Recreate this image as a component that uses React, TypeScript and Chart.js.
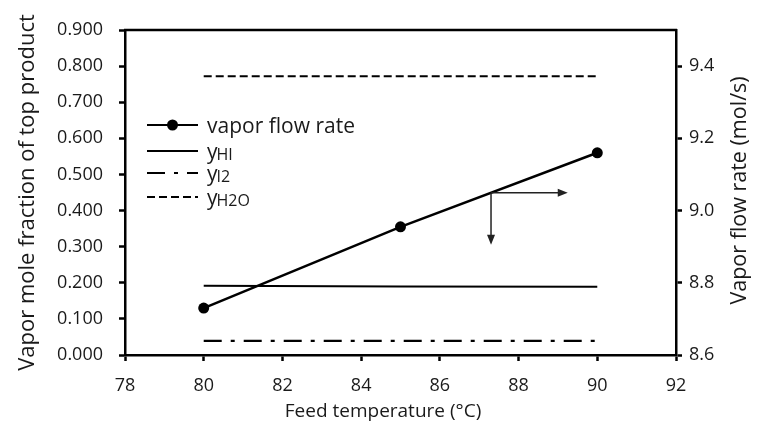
import React, { useEffect, useRef } from 'react';
import { Chart, registerables } from 'chart.js';

Chart.register(...registerables);

// ---- data ----
const temperatures = [80, 85, 90];
const vaporFlowRate = [8.73, 8.955, 9.16];
const yHI = [0.192, 0.19, 0.189];
const yI2 = [0.039, 0.039, 0.039];
const yH2O = [0.772, 0.772, 0.772];

const xTicks = [78, 80, 82, 84, 86, 88, 90, 92];
const leftTicks = [0, 0.1, 0.2, 0.3, 0.4, 0.5, 0.6, 0.7, 0.8, 0.9];
const rightTicks = [8.6, 8.8, 9.0, 9.2, 9.4];

// annotation arrows (data units)
const arrowT = 87.3;
const arrowRightT = 89.25;
const arrowDownY = 0.305;

const FONT = "'Open Sans', 'Noto Sans', sans-serif";
const TEXT = '#1a1a1a';

const toXY = (ys: number[]) => temperatures.map((t, i) => ({ x: t, y: ys[i] }));

function drawArrow(ctx: CanvasRenderingContext2D, x1: number, y1: number, x2: number, y2: number) {
  const ang = Math.atan2(y2 - y1, x2 - x1);
  const L = 10, W = 4;
  ctx.beginPath();
  ctx.moveTo(x1, y1);
  ctx.lineTo(x2 - Math.cos(ang) * L * 0.8, y2 - Math.sin(ang) * L * 0.8);
  ctx.stroke();
  ctx.beginPath();
  ctx.moveTo(x2, y2);
  ctx.lineTo(x2 - Math.cos(ang) * L - Math.sin(ang) * W, y2 - Math.sin(ang) * L + Math.cos(ang) * W);
  ctx.lineTo(x2 - Math.cos(ang) * L + Math.sin(ang) * W, y2 - Math.sin(ang) * L - Math.cos(ang) * W);
  ctx.closePath();
  ctx.fill();
}

const overlay = {
  id: 'overlay',
  afterDraw(chart: any) {
    const { ctx, chartArea, scales } = chart;
    const sx = scales.x, sy = scales.y, sy2 = scales.y2;
    ctx.save();

    // top frame line
    ctx.strokeStyle = '#000';
    ctx.lineWidth = 2.5;
    ctx.beginPath();
    ctx.moveTo(chartArea.left - 1, chartArea.top);
    ctx.lineTo(chartArea.right + 1, chartArea.top);
    ctx.stroke();

    // axis titles
    ctx.fillStyle = TEXT;
    ctx.textAlign = 'center';
    ctx.textBaseline = 'middle';
    ctx.font = `22px ${FONT}`;
    ctx.save();
    ctx.translate(28, (chartArea.top + chartArea.bottom) / 2);
    ctx.rotate(-Math.PI / 2);
    ctx.fillText('Vapor mole fraction of top product', 0, 0);
    ctx.restore();
    ctx.font = `21.5px ${FONT}`;
    ctx.save();
    ctx.translate(740, (chartArea.top + chartArea.bottom) / 2 - 2);
    ctx.rotate(-Math.PI / 2);
    ctx.fillText('Vapor flow rate (mol/s)', 0, 0);
    ctx.restore();
    ctx.font = `19px ${FONT}`;
    ctx.fillText('Feed temperature (°C)', 383, 412);

    // legend
    const lx1 = 147, lx2 = 198, tx = 207;
    const rows: { y: number; dash: number[]; marker?: boolean; main: string; sub?: string }[] = [
      { y: 125, dash: [], marker: true, main: 'vapor flow rate' },
      { y: 151, dash: [], main: 'y', sub: 'HI' },
      { y: 173, dash: [18, 9, 4, 9], main: 'y', sub: 'I2' },
      { y: 197, dash: [8, 4], main: 'y', sub: 'H2O' },
    ];
    rows.forEach((r) => {
      ctx.strokeStyle = '#000';
      ctx.lineWidth = 2.2;
      ctx.setLineDash(r.dash);
      ctx.beginPath();
      ctx.moveTo(lx1, r.y);
      ctx.lineTo(lx2, r.y);
      ctx.stroke();
      ctx.setLineDash([]);
      if (r.marker) {
        ctx.fillStyle = '#000';
        ctx.beginPath();
        ctx.arc((lx1 + lx2) / 2, r.y, 5.5, 0, Math.PI * 2);
        ctx.fill();
      }
      ctx.fillStyle = TEXT;
      ctx.textAlign = 'left';
      ctx.textBaseline = 'alphabetic';
      ctx.font = `21px ${FONT}`;
      ctx.fillText(r.main, tx, r.y + 8);
      if (r.sub) {
        const w = ctx.measureText(r.main).width;
        ctx.font = `16px ${FONT}`;
        ctx.fillText(r.sub, tx + w - 1, r.y + 9);
      }
    });

    // arrows
    const i0 = 1, i1 = 2;
    const f = (arrowT - temperatures[i0]) / (temperatures[i1] - temperatures[i0]);
    const flowAt = vaporFlowRate[i0] + f * (vaporFlowRate[i1] - vaporFlowRate[i0]);
    const px = sx.getPixelForValue(arrowT);
    const py = sy2.getPixelForValue(flowAt);
    ctx.strokeStyle = '#222';
    ctx.fillStyle = '#222';
    ctx.lineWidth = 1.5;
    drawArrow(ctx, px, py, sx.getPixelForValue(arrowRightT), py);
    drawArrow(ctx, px, py, px, sy.getPixelForValue(arrowDownY));

    ctx.restore();
  },
};

const tickFont = { family: FONT, size: 18 };

export default function App() {
  const ref = useRef<HTMLCanvasElement>(null);
  useEffect(() => {
    if (!ref.current) return;
    const chart = new Chart(ref.current, {
      type: 'line',
      data: {
        datasets: [
          {
            label: 'vapor flow rate',
            data: toXY(vaporFlowRate),
            yAxisID: 'y2',
            borderColor: '#000',
            backgroundColor: '#000',
            borderWidth: 2.5,
            pointRadius: 5.5,
            pointBackgroundColor: '#000',
            pointBorderWidth: 0,
          },
          {
            label: 'yHI',
            data: toXY(yHI),
            yAxisID: 'y',
            borderColor: '#000',
            borderWidth: 2,
            pointRadius: 0,
          },
          {
            label: 'yI2',
            data: toXY(yI2),
            yAxisID: 'y',
            borderColor: '#000',
            borderWidth: 2.2,
            borderDash: [18, 9, 4, 9],
            pointRadius: 0,
          },
          {
            label: 'yH2O',
            data: toXY(yH2O),
            yAxisID: 'y',
            borderColor: '#000',
            borderWidth: 2,
            borderDash: [8, 4],
            pointRadius: 0,
          },
        ],
      },
      options: {
        animation: false,
        responsive: true,
        maintainAspectRatio: false,
        layout: { padding: { top: 30, left: 0, right: 0, bottom: 0 } },
        plugins: { legend: { display: false }, tooltip: { enabled: false } },
        scales: {
          x: {
            type: 'linear',
            min: 78,
            max: 92,
            afterBuildTicks: (s: any) => { s.ticks = xTicks.map((v) => ({ value: v })); },
            afterFit: (s: any) => { s.height = 82; },
            border: { display: true, color: '#000', width: 2.5 },
            grid: { drawOnChartArea: false, drawTicks: true, tickLength: 6, tickWidth: 2.5, tickColor: '#000' },
            ticks: { font: tickFont, color: TEXT, padding: 14, maxRotation: 0, callback: (v: any) => String(v) },
          },
          y: {
            type: 'linear',
            position: 'left',
            min: 0,
            max: 0.9,
            afterBuildTicks: (s: any) => { s.ticks = leftTicks.map((v) => ({ value: v })); },
            afterFit: (s: any) => { s.width = 125; },
            border: { display: true, color: '#000', width: 2.5 },
            grid: { drawOnChartArea: false, drawTicks: true, tickLength: 6, tickWidth: 2.5, tickColor: '#000' },
            ticks: { font: tickFont, color: TEXT, padding: 16, callback: (v: any) => Number(v).toFixed(3) },
          },
          y2: {
            type: 'linear',
            position: 'right',
            min: 8.6,
            max: 9.5,
            afterBuildTicks: (s: any) => { s.ticks = rightTicks.map((v) => ({ value: v })); },
            afterFit: (s: any) => { s.width = 89; },
            border: { display: true, color: '#000', width: 2.5 },
            grid: { drawOnChartArea: false, drawTicks: true, tickLength: 6, tickWidth: 2.5, tickColor: '#000' },
            ticks: { font: tickFont, color: TEXT, padding: 7, callback: (v: any) => Number(v).toFixed(1) },
          },
        },
      },
      plugins: [overlay],
    });
    return () => chart.destroy();
  }, []);
  return (
    <div style={{ position: 'fixed', left: 0, top: 0, width: 765, height: 437, background: '#fff' }}>
      <canvas ref={ref} />
    </div>
  );
}
